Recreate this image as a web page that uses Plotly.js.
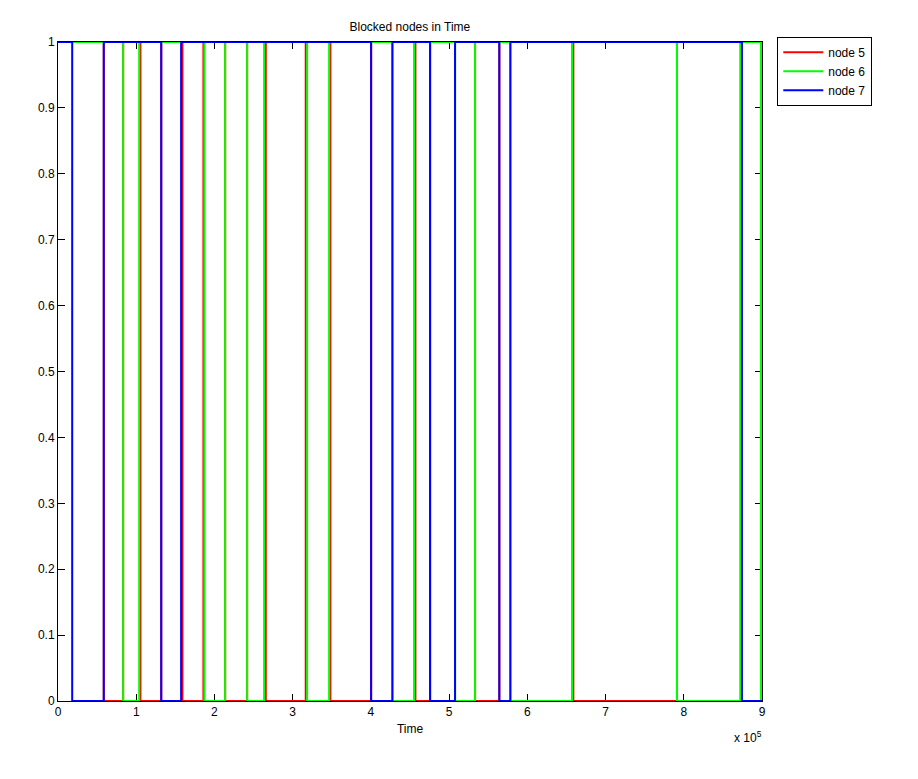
<!DOCTYPE html>
<html>
<head>
<meta charset="utf-8">
<script src="https://cdn.plot.ly/plotly-3.0.1.min.js"></script>
<style>html,body{margin:0;padding:0;background:#fff;}#chart{width:918px;height:779px;}</style>
</head>
<body>
<div id="chart"></div>
<script>
// Transition times (state holds until next time) for each node
const timeNode5 = [0, 58500, 83300, 105400, 132000, 159100, 185900, 213700, 241800, 265600, 316700, 348200, 400300, 456900, 475700, 533200, 564200, 658800, 791300, 900000];
const stateNode5 = [1, 0, 1, 0, 1, 0, 1, 0, 1, 0, 1, 0, 1, 0, 1, 0, 1, 0, 1, 1];

const timeNode6 = [0, 83300, 103800, 187200, 213700, 241800, 263500, 318500, 346600, 427500, 455200, 507600, 533200, 578300, 657100, 791300, 872200, 898700, 900000];
const stateNode6 = [1, 0, 1, 0, 1, 0, 1, 0, 1, 0, 1, 0, 1, 0, 1, 0, 1, 0, 0];

const timeNode7 = [0, 18150, 58500, 132000, 157400, 400300, 427500, 475700, 507600, 564200, 578300, 874400, 900000];
const stateNode7 = [1, 0, 1, 0, 1, 0, 1, 0, 1, 0, 1, 0, 0];

const seriesNames = ["node 5", "node 6", "node 7"];
const xTickVals = [0, 100000, 200000, 300000, 400000, 500000, 600000, 700000, 800000, 900000];
const xTickText = ["0", "1", "2", "3", "4", "5", "6", "7", "8", "9"];
const yTickVals = [0, 0.1, 0.2, 0.3, 0.4, 0.5, 0.6, 0.7, 0.8, 0.9, 1];
const yTickText = ["0", "0.1", "0.2", "0.3", "0.4", "0.5", "0.6", "0.7", "0.8", "0.9", "1"];

const FONT = "Arial, 'Liberation Sans', Helvetica, sans-serif";

function mk(x, y, name, color) {
  return {x: x, y: y, name: name, type: "scatter", mode: "lines",
          line: {shape: "hv", color: color, width: 2}};
}

const data = [
  mk(timeNode5, stateNode5, seriesNames[0], "#ff0000"),
  mk(timeNode6, stateNode6, seriesNames[1], "#00ff00"),
  mk(timeNode7, stateNode7, seriesNames[2], "#0000ff")
];

const axisCommon = {
  showline: true, linecolor: "#000", linewidth: 1, mirror: "ticks",
  ticks: "inside", ticklen: 7, tickcolor: "#000", tickwidth: 1,
  showgrid: false, zeroline: false, layer: "below traces",
  tickfont: {family: FONT, size: 12, color: "#000"}
};

const layout = {
  width: 918, height: 779,
  margin: {l: 57.5, r: 156.25, t: 42.3, b: 78.3, pad: 0},
  paper_bgcolor: "#fff", plot_bgcolor: "#fff",
  font: {family: FONT, size: 12, color: "#000"},
  title: {text: "Blocked nodes in Time", font: {family: FONT, size: 12, color: "#000"},
          x: 0.4465, xanchor: "center", y: 0.965, yanchor: "middle"},
  xaxis: Object.assign({}, axisCommon, {
    range: [0, 900000], tickvals: xTickVals, ticktext: xTickText,
    title: {text: "Time", font: {family: FONT, size: 12, color: "#000"}, standoff: 6}
  }),
  yaxis: Object.assign({}, axisCommon, {
    range: [0, 1], tickvals: yTickVals, ticktext: yTickText
  }),
  legend: {
    x: 1.0217, y: 1.008, xanchor: "left", yanchor: "top",
    itemwidth: 40,
    bgcolor: "#fff", bordercolor: "#000", borderwidth: 1,
    font: {family: FONT, size: 12, color: "#000"}
  },
  annotations: [{
    text: "x 10<sup>5</sup>", xref: "paper", yref: "paper",
    x: 1.003, y: -0.04, xanchor: "right", yanchor: "top", showarrow: false,
    font: {family: FONT, size: 12, color: "#000"}
  }],
  showlegend: true
};

Plotly.newPlot("chart", data, layout, {displayModeBar: false, staticPlot: true});
</script>
</body>
</html>
